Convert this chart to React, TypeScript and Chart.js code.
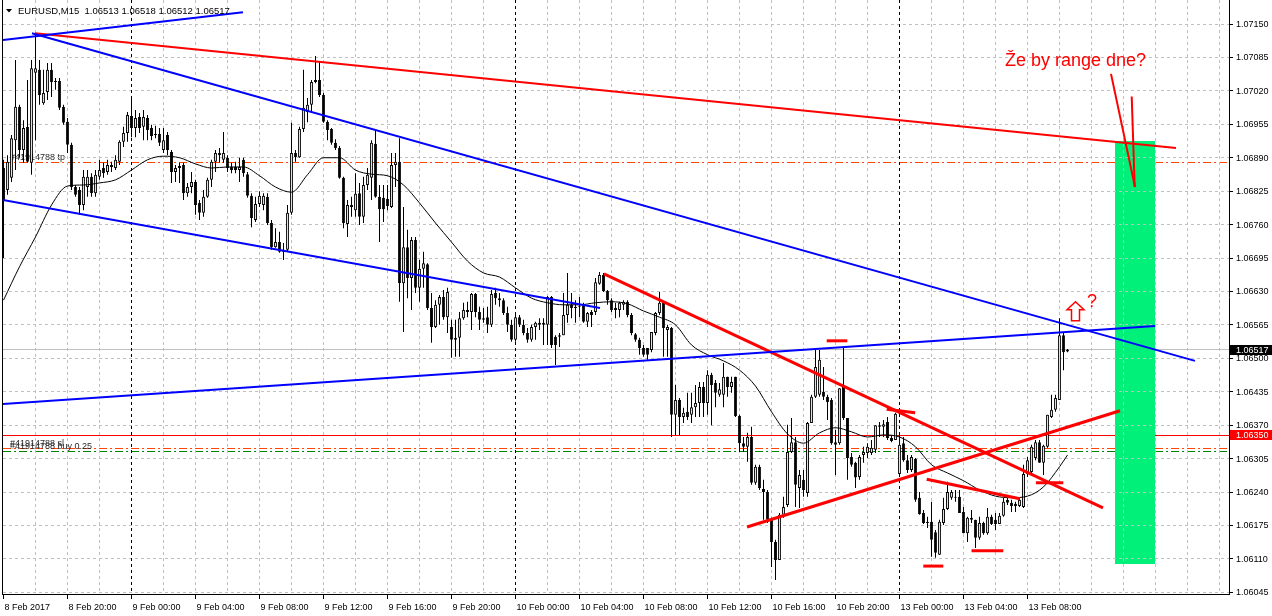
import React, { useEffect, useRef } from 'react';
import { Chart, registerables } from 'chart.js';

Chart.register(...registerables);

// ---------------- data ----------------
const symbol = 'EURUSD,M15';

const opens = [
1.06870,1.06827,1.06851,1.06924,1.06989,1.06905,1.06950,1.06880,1.07055,1.07061,
1.06996,1.07018,1.07061,1.07037,1.07039,1.06989,1.06960,1.06915,1.06833,1.06827,
1.06798,1.06833,1.06853,1.06821,1.06853,1.06870,1.06862,1.06872,1.06870,1.06882,
1.06921,1.06938,1.06971,1.06948,1.06969,1.06950,1.06967,1.06948,1.06934,1.06936,
1.06905,1.06934,1.06901,1.06862,1.06870,1.06876,1.06821,1.06833,1.06843,1.06802,
1.06783,1.06814,1.06847,1.06882,1.06899,1.06886,1.06890,1.06872,1.06872,1.06866,
1.06886,1.06858,1.06816,1.06769,1.06800,1.06798,1.06814,1.06763,1.06716,1.06726,
1.06707,1.06711,1.06783,1.06899,1.06891,1.06946,1.06979,1.06993,1.07037,1.07041,
1.07012,1.06960,1.06946,1.06919,1.06909,1.06851,1.06761,1.06794,1.06788,1.06821,
1.06775,1.06837,1.06851,1.06917,1.06814,1.06812,1.06810,1.06794,1.06876,1.06882,
1.06646,1.06716,1.06656,1.06730,1.06637,1.06674,1.06683,1.06598,1.06561,1.06604,
1.06619,1.06580,1.06561,1.06540,1.06540,1.06578,1.06590,1.06590,1.06625,1.06590,
1.06575,1.06580,1.06565,1.06627,1.06617,1.06613,1.06588,1.06565,1.06536,1.06580,
1.06565,1.06549,1.06536,1.06561,1.06569,1.06569,1.06565,1.06619,1.06542,1.06542,
1.06545,1.06584,1.06604,1.06598,1.06600,1.06604,1.06571,1.06590,1.06590,1.06645,
1.06662,1.06631,1.06613,1.06594,1.06594,1.06604,1.06610,1.06584,1.06547,1.06536,
1.06520,1.06520,1.06516,1.06549,1.06588,1.06608,1.06555,1.06559,1.06390,1.06419,
1.06386,1.06396,1.06390,1.06405,1.06413,1.06444,1.06413,1.06468,1.06452,1.06429,
1.06429,1.06464,1.06444,1.06464,1.06388,1.06335,1.06328,1.06347,1.06258,1.06289,
1.06246,1.06240,1.06186,1.06143,1.06108,1.06196,1.06215,1.06318,1.06337,1.06248,
1.06264,1.06238,1.06374,1.06425,1.06429,1.06435,1.06425,1.06419,1.06337,1.06335,
1.06444,1.06384,1.06308,1.06297,1.06269,1.06312,1.06316,1.06316,1.06322,1.06370,
1.06367,1.06376,1.06345,1.06341,1.06275,1.06335,1.06302,1.06283,1.06304,1.06229,
1.06199,1.06182,1.06182,1.06162,1.06118,1.06180,1.06207,1.06229,1.06231,1.06231,
1.06201,1.06160,1.06190,1.06186,1.06151,1.06180,1.06160,1.06192,1.06186,1.06178,
1.06194,1.06225,1.06219,1.06217,1.06213,1.06211,1.06275,1.06279,1.06306,1.06337,
1.06297,1.06328,1.06386,1.06400,1.06419,1.06545,1.06513];

const highs = [
1.06886,1.06895,1.06934,1.07080,1.06993,1.06963,1.07041,1.07080,1.07132,1.07080,
1.07061,1.07074,1.07074,1.07045,1.07045,1.06993,1.06967,1.06919,1.06837,1.06833,
1.06866,1.06866,1.06860,1.06866,1.06886,1.06880,1.06886,1.06882,1.06895,1.06924,
1.06950,1.06979,1.07006,1.06983,1.06977,1.06983,1.06973,1.06954,1.06952,1.06948,
1.06948,1.06940,1.06905,1.06876,1.06880,1.06880,1.06841,1.06862,1.06847,1.06808,
1.06827,1.06851,1.06886,1.06905,1.06909,1.06940,1.06895,1.06880,1.06882,1.06890,
1.06890,1.06862,1.06821,1.06814,1.06825,1.06821,1.06821,1.06769,1.06753,1.06746,
1.06724,1.06798,1.06958,1.06905,1.06950,1.07061,1.07006,1.07041,1.07088,1.07076,
1.07016,1.06963,1.06948,1.06926,1.06913,1.06853,1.06808,1.06814,1.06860,1.06841,
1.06853,1.06870,1.06924,1.06944,1.06837,1.06837,1.06837,1.06899,1.06899,1.06928,
1.06794,1.06750,1.06736,1.06736,1.06691,1.06707,1.06685,1.06627,1.06613,1.06623,
1.06633,1.06637,1.06575,1.06575,1.06590,1.06608,1.06610,1.06627,1.06627,1.06600,
1.06598,1.06600,1.06633,1.06637,1.06627,1.06617,1.06600,1.06575,1.06584,1.06584,
1.06575,1.06559,1.06565,1.06571,1.06578,1.06578,1.06621,1.06621,1.06545,1.06549,
1.06627,1.06666,1.06627,1.06613,1.06619,1.06608,1.06590,1.06594,1.06656,1.06668,
1.06666,1.06633,1.06617,1.06608,1.06610,1.06613,1.06613,1.06588,1.06549,1.06540,
1.06526,1.06520,1.06551,1.06590,1.06629,1.06610,1.06565,1.06561,1.06448,1.06423,
1.06404,1.06433,1.06433,1.06448,1.06454,1.06454,1.06477,1.06472,1.06458,1.06452,
1.06491,1.06464,1.06464,1.06464,1.06390,1.06347,1.06355,1.06367,1.06293,1.06293,
1.06264,1.06244,1.06190,1.06147,1.06199,1.06231,1.06371,1.06384,1.06347,1.06283,
1.06283,1.06376,1.06429,1.06516,1.06516,1.06483,1.06429,1.06423,1.06361,1.06442,
1.06522,1.06384,1.06316,1.06299,1.06312,1.06328,1.06335,1.06341,1.06370,1.06376,
1.06380,1.06386,1.06351,1.06394,1.06355,1.06347,1.06312,1.06312,1.06306,1.06240,
1.06205,1.06192,1.06221,1.06166,1.06186,1.06229,1.06260,1.06244,1.06244,1.06244,
1.06211,1.06192,1.06205,1.06186,1.06192,1.06182,1.06209,1.06196,1.06199,1.06199,
1.06229,1.06229,1.06225,1.06221,1.06229,1.06293,1.06308,1.06332,1.06341,1.06341,
1.06332,1.06390,1.06429,1.06429,1.06578,1.06549,1.06518];

const lows = [
1.06695,1.06818,1.06843,1.06866,1.06890,1.06880,1.06880,1.06857,1.06924,1.06993,
1.06993,1.07002,1.07008,1.07022,1.06983,1.06954,1.06899,1.06827,1.06814,1.06779,
1.06788,1.06814,1.06814,1.06814,1.06847,1.06851,1.06857,1.06862,1.06866,1.06876,
1.06911,1.06921,1.06930,1.06930,1.06938,1.06924,1.06924,1.06924,1.06928,1.06913,
1.06899,1.06895,1.06841,1.06843,1.06841,1.06808,1.06814,1.06821,1.06779,1.06769,
1.06775,1.06812,1.06833,1.06862,1.06880,1.06880,1.06862,1.06860,1.06860,1.06843,
1.06853,1.06812,1.06755,1.06765,1.06794,1.06788,1.06759,1.06711,1.06715,1.06705,
1.06691,1.06707,1.06779,1.06882,1.06890,1.06940,1.06959,1.06977,1.07035,1.07008,
1.06958,1.06924,1.06915,1.06905,1.06849,1.06753,1.06736,1.06775,1.06775,1.06759,
1.06763,1.06827,1.06808,1.06812,1.06726,1.06765,1.06788,1.06792,1.06833,1.06610,
1.06551,1.06617,1.06594,1.06627,1.06610,1.06637,1.06594,1.06530,1.06559,1.06565,
1.06575,1.06549,1.06501,1.06503,1.06503,1.06575,1.06580,1.06555,1.06580,1.06555,
1.06569,1.06549,1.06561,1.06604,1.06600,1.06584,1.06551,1.06532,1.06532,1.06561,
1.06545,1.06530,1.06532,1.06536,1.06555,1.06526,1.06526,1.06520,1.06487,1.06522,
1.06545,1.06569,1.06578,1.06569,1.06580,1.06569,1.06561,1.06561,1.06584,1.06643,
1.06629,1.06604,1.06590,1.06578,1.06580,1.06594,1.06580,1.06545,1.06532,1.06507,
1.06503,1.06497,1.06512,1.06545,1.06584,1.06503,1.06503,1.06347,1.06351,1.06351,
1.06374,1.06380,1.06374,1.06386,1.06386,1.06386,1.06390,1.06370,1.06405,1.06425,
1.06405,1.06425,1.06433,1.06386,1.06318,1.06318,1.06299,1.06254,1.06254,1.06244,
1.06186,1.06180,1.06094,1.06069,1.06108,1.06190,1.06211,1.06316,1.06211,1.06209,
1.06231,1.06231,1.06374,1.06423,1.06425,1.06419,1.06380,1.06332,1.06273,1.06332,
1.06380,1.06264,1.06289,1.06248,1.06264,1.06297,1.06306,1.06312,1.06316,1.06347,
1.06347,1.06341,1.06337,1.06341,1.06269,1.06299,1.06277,1.06279,1.06221,1.06196,
1.06178,1.06170,1.06114,1.06112,1.06118,1.06176,1.06205,1.06225,1.06221,1.06199,
1.06160,1.06143,1.06180,1.06131,1.06147,1.06157,1.06157,1.06176,1.06166,1.06178,
1.06192,1.06215,1.06201,1.06201,1.06211,1.06209,1.06269,1.06273,1.06302,1.06297,
1.06273,1.06326,1.06384,1.06396,1.06419,1.06477,1.06512];

const closes = [
1.06808,1.06882,1.06928,1.06989,1.06905,1.06948,1.06882,1.07064,1.07064,1.07012,
1.07016,1.07061,1.07037,1.07039,1.06987,1.06958,1.06915,1.06833,1.06818,1.06798,
1.06853,1.06853,1.06821,1.06857,1.06866,1.06860,1.06876,1.06876,1.06886,1.06921,
1.06938,1.06973,1.06948,1.06967,1.06948,1.06969,1.06944,1.06932,1.06936,1.06919,
1.06924,1.06905,1.06862,1.06870,1.06874,1.06821,1.06833,1.06843,1.06798,1.06783,
1.06814,1.06847,1.06882,1.06899,1.06895,1.06899,1.06870,1.06866,1.06866,1.06872,
1.06860,1.06816,1.06773,1.06800,1.06816,1.06816,1.06763,1.06716,1.06726,1.06707,
1.06711,1.06783,1.06899,1.06891,1.06946,1.06987,1.06993,1.07037,1.07041,1.07012,
1.06960,1.06944,1.06919,1.06909,1.06851,1.06763,1.06798,1.06798,1.06820,1.06775,
1.06837,1.06857,1.06919,1.06814,1.06790,1.06790,1.06796,1.06876,1.06882,1.06646,
1.06716,1.06656,1.06730,1.06637,1.06674,1.06685,1.06598,1.06561,1.06604,1.06619,
1.06580,1.06629,1.06536,1.06536,1.06578,1.06594,1.06594,1.06625,1.06590,1.06575,
1.06578,1.06565,1.06625,1.06617,1.06613,1.06588,1.06565,1.06536,1.06580,1.06565,
1.06549,1.06536,1.06561,1.06569,1.06565,1.06565,1.06619,1.06526,1.06526,1.06545,
1.06584,1.06604,1.06598,1.06600,1.06602,1.06571,1.06588,1.06584,1.06648,1.06662,
1.06631,1.06613,1.06594,1.06598,1.06608,1.06610,1.06584,1.06549,1.06536,1.06520,
1.06507,1.06507,1.06551,1.06588,1.06608,1.06559,1.06561,1.06390,1.06419,1.06386,
1.06394,1.06386,1.06405,1.06413,1.06444,1.06413,1.06468,1.06448,1.06433,1.06440,
1.06464,1.06444,1.06454,1.06388,1.06335,1.06328,1.06347,1.06258,1.06289,1.06248,
1.06240,1.06186,1.06143,1.06108,1.06196,1.06211,1.06318,1.06337,1.06254,1.06273,
1.06244,1.06374,1.06425,1.06483,1.06497,1.06425,1.06415,1.06335,1.06332,1.06442,
1.06384,1.06306,1.06293,1.06268,1.06308,1.06318,1.06328,1.06326,1.06370,1.06367,
1.06372,1.06345,1.06339,1.06392,1.06332,1.06302,1.06283,1.06308,1.06225,1.06197,
1.06180,1.06180,1.06147,1.06122,1.06182,1.06207,1.06240,1.06240,1.06229,1.06199,
1.06160,1.06190,1.06186,1.06151,1.06180,1.06160,1.06192,1.06178,1.06178,1.06194,
1.06221,1.06219,1.06213,1.06213,1.06225,1.06275,1.06302,1.06328,1.06337,1.06297,
1.06330,1.06390,1.06400,1.06423,1.06545,1.06512,1.06517];

// moving average (bar index -> value)
const maBars = [0,4,8,12,16,20,24,28,32,36,40,44,48,52,56,60,64,68,72,76,80,84,88,92,96,100,
104,108,112,116,120,124,128,132,136,140,144,148,152,156,160,164,168,172,176,180,184,188,192,196,
200,204,208,212,216,220,224,228,232,236,240,244,248,252,256,260,264,266];
const maValues = [1.06613,1.06678,1.06736,1.06798,1.06835,1.06837,1.06841,1.06847,1.06866,1.06886,
1.06893,1.06890,1.06878,1.06870,1.06872,1.06872,1.06855,1.06833,1.06823,1.06857,
1.06890,1.06890,1.06866,1.06858,1.06855,1.06837,1.06802,1.06763,1.06726,1.06689,
1.06666,1.06658,1.06637,1.06617,1.06608,1.06604,1.06604,1.06608,1.06610,1.06606,
1.06592,1.06580,1.06565,1.06526,1.06507,1.06495,1.06477,1.06446,1.06396,1.06353,
1.06335,1.06355,1.06365,1.06357,1.06347,1.06351,1.06347,1.06328,1.06293,1.06277,
1.06262,1.06244,1.06232,1.06229,1.06232,1.06250,1.06289,1.06312];

// axis ticks
const xTickBars = [0,16,32,48,64,80,96,112,128,144,160,176,192,208,224,240,256];
const xTickLabels = ['8 Feb 2017','8 Feb 20:00','9 Feb 00:00','9 Feb 04:00','9 Feb 08:00','9 Feb 12:00',
'9 Feb 16:00','9 Feb 20:00','10 Feb 00:00','10 Feb 04:00','10 Feb 08:00','10 Feb 12:00','10 Feb 16:00',
'10 Feb 20:00','13 Feb 00:00','13 Feb 04:00','13 Feb 08:00'];
const gridBars = [8,16,24,32,40,48,56,64,72,80,88,96,104,112,120,128,136,144,152,160,168,176,184,192,
200,208,216,224,232,240,248,256,264,272,280,288,296,304];
const daySeparatorBars = [32,128,224];
const priceTicks = [1.06045,1.06110,1.06175,1.06240,1.06305,1.06370,1.06435,1.06500,1.06565,
1.06630,1.06695,1.06760,1.06825,1.06890,1.06955,1.07020,1.07085,1.07150];

// trade levels
const orderLabels = ['#41914788 tp', '#41914788 sl', '#41914788 buy 0.25'];
const orderPrices = [1.06880, 1.06324, 1.06318];
const markedLevel = 1.06350;

// drawn objects (bar index, price)
const trendLines = [
  { id: 'blueUpLeft', from: [-0.125, 1.07119], to: [59.875, 1.07173] },
  { id: 'blueChannelTop', from: [7.125, 1.07132], to: [297.875, 1.06495] },
  { id: 'blueChannelBottom', from: [-0.125, 1.06808], to: [149.125, 1.06598] },
  { id: 'blueRising', from: [-0.125, 1.06411], to: [287.875, 1.06563] },
  { id: 'redTop', from: [7.875, 1.07132], to: [293.125, 1.06909] },
  { id: 'redFalling', from: [150.125, 1.06664], to: [274.875, 1.06209] },
  { id: 'redRising', from: [185.875, 1.06172], to: [279.125, 1.06398] },
  { id: 'redShort', from: [230.8, 1.06265], to: [254.1, 1.06227] },
  { id: 'mark1', from: [205.8, 1.06534], to: [210.95, 1.06534] },
  { id: 'mark2', from: [220.8, 1.06401], to: [227.9, 1.06394] },
  { id: 'mark3', from: [229.95, 1.06096], to: [234.95, 1.06096] },
  { id: 'mark4', from: [242, 1.06126], to: [249.95, 1.06126] },
  { id: 'mark5', from: [258.1, 1.06258], to: [264.95, 1.06258] },
  { id: 'arrowLong', from: [276.875, 1.07053], to: [282.875, 1.06833] },
  { id: 'arrowShort', from: [282.05, 1.07009], to: [282.8, 1.06833] },
];
const rangeBoxBars = [277.875, 287.875];
const rangeBoxPrices = [1.06100, 1.06923];
const noteText = 'Že by range dne?';
const notePos = [250.375, 1.07068];
const upArrowPos = [268, 1.06610];
const questionPos = [270.875, 1.06600];

// visible window
const X_MIN = -0.125;
const X_MAX = 306.375;
const Y_MIN = 1.0604171;
const Y_MAX = 1.0719667;

// ---------------- styles ----------------
const BLUE = '#0000ff';
const RED = '#ff0000';
const lineStyle: Record<string, { color: string; width: number }> = {
  blueUpLeft: { color: BLUE, width: 2 },
  blueChannelTop: { color: BLUE, width: 2 },
  blueChannelBottom: { color: BLUE, width: 2 },
  blueRising: { color: BLUE, width: 2 },
  redTop: { color: RED, width: 2 },
  redFalling: { color: RED, width: 3 },
  redRising: { color: RED, width: 3 },
  redShort: { color: RED, width: 3 },
  mark1: { color: RED, width: 3 },
  mark2: { color: RED, width: 3 },
  mark3: { color: RED, width: 3 },
  mark4: { color: RED, width: 3 },
  mark5: { color: RED, width: 3 },
  arrowLong: { color: RED, width: 2 },
  arrowShort: { color: RED, width: 2 },
};
const orderColors = ['#ff4500', '#ff4500', '#008000'];
const FONT = '"Liberation Sans", Arial, sans-serif';
const crisp = (v: number) => Math.floor(v) + 0.5;

function seg(ctx: CanvasRenderingContext2D, x1: number, y1: number, x2: number, y2: number) {
  ctx.beginPath();
  ctx.moveTo(x1, y1);
  ctx.lineTo(x2, y2);
  ctx.stroke();
}

const mt4Plugin = {
  id: 'mt4',
  beforeDatasetsDraw(chart: any) {
    const { ctx, chartArea: a, scales } = chart;
    const xs = scales.x, ys = scales.y;
    ctx.save();
    ctx.beginPath();
    ctx.rect(a.left, a.top, a.right - a.left, a.bottom - a.top);
    ctx.clip();
    ctx.lineWidth = 1;
    // bid line
    ctx.setLineDash([]);
    ctx.strokeStyle = '#c0c0c0';
    let yy = crisp(ys.getPixelForValue(closes[closes.length - 1]));
    seg(ctx, a.left, yy, a.right, yy);
    // marked level
    ctx.strokeStyle = RED;
    yy = crisp(ys.getPixelForValue(markedLevel));
    seg(ctx, a.left, yy, a.right, yy);
    // order lines
    orderPrices.forEach((p, k) => {
      ctx.strokeStyle = orderColors[k];
      ctx.setLineDash([8, 3, 2, 3]);
      const y = crisp(ys.getPixelForValue(p));
      seg(ctx, a.left, y, a.right, y);
    });
    ctx.setLineDash([]);
    ctx.font = `9px ${FONT}`;
    ctx.fillStyle = '#2a2a2a';
    ctx.textBaseline = 'alphabetic';
    ctx.textAlign = 'left';
    orderPrices.forEach((p, k) => {
      ctx.fillText(orderLabels[k], a.left + 7, ys.getPixelForValue(p) - 2.5);
    });
    // range box
    const bx1 = xs.getPixelForValue(rangeBoxBars[0]);
    const bx2 = xs.getPixelForValue(rangeBoxBars[1]);
    const by1 = ys.getPixelForValue(rangeBoxPrices[1]);
    const by2 = ys.getPixelForValue(rangeBoxPrices[0]);
    ctx.fillStyle = '#00f07a';
    ctx.fillRect(Math.round(bx1), Math.round(by1), Math.round(bx2 - bx1), Math.round(by2 - by1));
    // grid
    ctx.setLineDash([3, 3]);
    ctx.strokeStyle = '#c0c0c0';
    priceTicks.forEach((p) => {
      const y = crisp(ys.getPixelForValue(p));
      seg(ctx, a.left, y, a.right, y);
    });
    gridBars.forEach((b) => {
      const x = crisp(xs.getPixelForValue(b));
      ctx.strokeStyle = daySeparatorBars.includes(b) ? '#000000' : '#c0c0c0';
      seg(ctx, x, a.top, x, a.bottom);
    });
    ctx.restore();
  },
  afterDatasetsDraw(chart: any) {
    const { ctx, chartArea: a, scales } = chart;
    const xs = scales.x, ys = scales.y;
    ctx.save();
    ctx.beginPath();
    ctx.rect(a.left, a.top, a.right - a.left, a.bottom - a.top);
    ctx.clip();
    ctx.fillStyle = RED;
    ctx.font = `18px ${FONT}`;
    ctx.textBaseline = 'alphabetic';
    ctx.textAlign = 'left';
    ctx.fillText(noteText, xs.getPixelForValue(notePos[0]), ys.getPixelForValue(notePos[1]));
    ctx.fillText('?', xs.getPixelForValue(questionPos[0]), ys.getPixelForValue(questionPos[1]));
    // hollow up arrow
    const ax = xs.getPixelForValue(upArrowPos[0]);
    const ay = ys.getPixelForValue(upArrowPos[1]);
    ctx.strokeStyle = RED;
    ctx.lineWidth = 1.5;
    ctx.beginPath();
    ctx.moveTo(ax, ay);
    ctx.lineTo(ax + 8.5, ay + 8);
    ctx.lineTo(ax + 4, ay + 8);
    ctx.lineTo(ax + 4, ay + 19);
    ctx.lineTo(ax - 4, ay + 19);
    ctx.lineTo(ax - 4, ay + 8);
    ctx.lineTo(ax - 8.5, ay + 8);
    ctx.closePath();
    ctx.stroke();
    ctx.restore();
  },
  afterDraw(chart: any) {
    const { ctx, chartArea: a, scales } = chart;
    const xs = scales.x, ys = scales.y;
    ctx.save();
    ctx.setLineDash([]);
    ctx.lineWidth = 1;
    ctx.strokeStyle = '#000000';
    // frame
    seg(ctx, a.left - 0.5, 0, a.left - 0.5, a.bottom + 1);
    seg(ctx, a.right + 0.5, 0, a.right + 0.5, a.bottom + 1);
    seg(ctx, a.left - 1, a.bottom + 0.5, a.right + 1, a.bottom + 0.5);
    ctx.font = `9px ${FONT}`;
    ctx.fillStyle = '#000000';
    // y axis
    ctx.textAlign = 'left';
    ctx.textBaseline = 'middle';
    priceTicks.forEach((p) => {
      const py = ys.getPixelForValue(p);
      const y = crisp(py);
      seg(ctx, a.right, y, a.right + 4, y);
      ctx.fillText(p.toFixed(5), a.right + 7, py + 0.5);
    });
    // x axis
    ctx.textBaseline = 'alphabetic';
    xTickBars.forEach((b, k) => {
      const x = crisp(xs.getPixelForValue(b));
      seg(ctx, x, a.bottom, x, a.bottom + 5);
      ctx.fillText(xTickLabels[k], x + 1, a.bottom + 16);
    });
    // price boxes
    const last = closes.length - 1;
    const boxes = [
      { price: closes[last], bg: '#000000' },
      { price: markedLevel, bg: RED },
    ];
    ctx.textBaseline = 'middle';
    boxes.forEach((bx) => {
      const py = Math.round(ys.getPixelForValue(bx.price));
      ctx.fillStyle = bx.bg;
      ctx.fillRect(a.right + 1, py - 5, 50, 10);
      ctx.fillStyle = '#ffffff';
      ctx.fillText(bx.price.toFixed(5), a.right + 7, py + 0.5);
    });
    // header
    ctx.fillStyle = '#000000';
    ctx.beginPath();
    ctx.moveTo(6, 9);
    ctx.lineTo(12, 9);
    ctx.lineTo(9, 12.5);
    ctx.closePath();
    ctx.fill();
    ctx.textBaseline = 'alphabetic';
    ctx.font = `9.5px ${FONT}`;
    const hdr = `${symbol}  ${opens[last].toFixed(5)} ${highs[last].toFixed(5)} ${lows[last].toFixed(5)} ${closes[last].toFixed(5)}`;
    ctx.fillText(hdr, 18, 14);
    ctx.restore();
  },
};

export default function App() {
  const ref = useRef<HTMLCanvasElement>(null);
  useEffect(() => {
    const canvas = ref.current;
    if (!canvas) return;
    const bars = opens.map((_, i) => i);
    const wickData = bars.map((i) => ({ x: i, y: [lows[i], highs[i]] }));
    const bodyData = bars.map((i) => ({ x: i, y: [Math.min(opens[i], closes[i]), Math.max(opens[i], closes[i])] }));
    const bodyColors = bars.map((i) => (closes[i] > opens[i] ? '#ffffff' : '#000000'));
    const maData = maBars.map((b, k) => ({ x: b, y: maValues[k] }));
    const lineSets = trendLines.map((t) => ({
      type: 'line' as const,
      label: t.id,
      data: [{ x: t.from[0], y: t.from[1] }, { x: t.to[0], y: t.to[1] }],
      borderColor: lineStyle[t.id].color,
      borderWidth: lineStyle[t.id].width,
      pointRadius: 0,
      tension: 0,
      fill: false,
      order: 1,
    }));
    const chart = new Chart(canvas, {
      type: 'bar',
      data: {
        datasets: [
          {
            type: 'bar',
            label: 'wicks',
            data: wickData as any,
            backgroundColor: '#000000',
            borderWidth: 0,
            grouped: false,
            maxBarThickness: 1,
            inflateAmount: 0,
            order: 10,
          } as any,
          {
            type: 'bar',
            label: 'bodies',
            data: bodyData as any,
            backgroundColor: bodyColors,
            borderColor: '#000000',
            borderWidth: 1,
            borderSkipped: false,
            grouped: false,
            maxBarThickness: 3,
            minBarLength: 1,
            inflateAmount: 0,
            order: 9,
          } as any,
          {
            type: 'line',
            label: 'MA',
            data: maData as any,
            borderColor: '#000000',
            borderWidth: 1,
            pointRadius: 0,
            cubicInterpolationMode: 'monotone',
            fill: false,
            order: 8,
          } as any,
          ...(lineSets as any[]),
        ],
      },
      options: {
        responsive: false,
        animation: false,
        devicePixelRatio: 1,
        events: [],
        layout: { padding: { left: 3, right: 43, top: 0, bottom: 22 } },
        plugins: { legend: { display: false }, tooltip: { enabled: false } },
        scales: {
          x: { type: 'linear', min: X_MIN, max: X_MAX, display: false, offset: false },
          y: { type: 'linear', min: Y_MIN, max: Y_MAX, display: false },
        },
      } as any,
      plugins: [mt4Plugin],
    });
    return () => chart.destroy();
  }, []);
  return (
    <div style={{ position: 'fixed', left: 0, top: 0, width: 1272, height: 616, background: '#ffffff' }}>
      <canvas ref={ref} width={1272} height={616} style={{ display: 'block', width: 1272, height: 616 }} />
    </div>
  );
}
